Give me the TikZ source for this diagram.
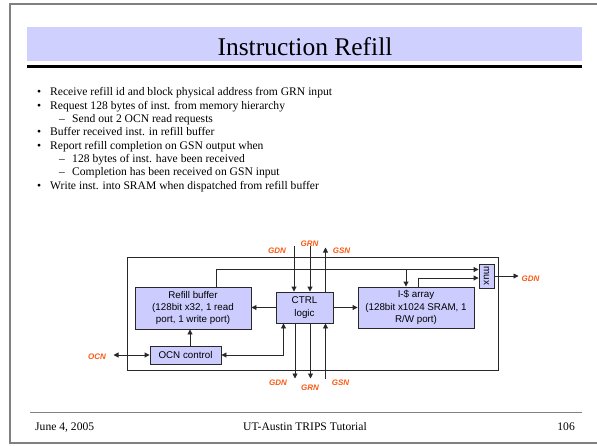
\documentclass[tikz,border=0pt]{standalone}
\usepackage{fontspec}
\setmainfont{Liberation Serif}
\newfontfamily\arialf{Liberation Sans}
\usetikzlibrary{arrows.meta}
\definecolor{boxfill}{RGB}{204,204,255}
\definecolor{bandfill}{RGB}{208,208,255}
\definecolor{netred}{RGB}{250,90,20}
\definecolor{lineg}{RGB}{40,40,40}
\begin{document}
\begin{tikzpicture}[x=1pt,y=-1pt,
  blk/.style={draw=lineg,line width=0.9pt,fill=boxfill,inner sep=0pt,align=center,
     font=\arialf\fontsize{9.8}{12.4}\selectfont},
  wire/.style={draw=lineg,line width=0.9pt},
  arr/.style={wire,-{Triangle[length=5pt,width=5pt]}},
  darr/.style={wire,{Triangle[length=5pt,width=5pt]}-{Triangle[length=5pt,width=5pt]}},
  net/.style={text=netred,font=\arialf\bfseries\itshape\fontsize{8}{9}\selectfont,inner sep=0pt},
  body/.style={anchor=base west,inner sep=0pt,font=\fontsize{11.6}{13.4}\selectfont},
  foot/.style={anchor=base,inner sep=0pt,font=\fontsize{11.6}{13.4}\selectfont}
]
\useasboundingbox (0,0) rectangle (597,445);
% slide frame
\draw[gray,line width=1.4pt] (597,4) -- (10,4) -- (10,443) -- (597,443);
% title band
\fill[bandfill] (27,27) rectangle (582,61);
\node[anchor=base,inner sep=0pt,font=\fontsize{25.5}{28}\selectfont] (title) at (305,55) {Instruction Refill};
\draw[black,line width=3pt] (27,66.5) -- (582,66.5);
% bullets
\foreach \y/\t in {95/{Receive refill id and block physical address from GRN input},
                   109/{Request 128 bytes of inst. from memory hierarchy},
                   135.5/{Buffer received inst. in refill buffer},
                   149/{Report refill completion on GSN output when},
                   189/{Write inst. into SRAM when dispatched from refill buffer}}{
  \node[body] at (37,\y) {\textbullet};
  \node[body] at (50,\y) {\t};
}
\foreach \y/\t in {122/{Send out 2 OCN read requests},
                   162.5/{128 bytes of inst. have been received},
                   175.5/{Completion has been received on GSN input}}{
  \node[body] at (59,\y) {\textendash};
  \node[body] at (72,\y) {\t};
}
% footer
\draw[gray,line width=1.2pt] (30,412.5) -- (582,412.5);
\node[body] (date) at (35,430.5) {June 4, 2005};
\node[foot] (tut) at (305,430.5) {UT-Austin TRIPS Tutorial};
\node[anchor=base east,inner sep=0pt,font=\fontsize{11.6}{13.4}\selectfont] (num) at (575,430.5) {106};

% diagram frame
\draw[lineg,line width=0.9pt] (127,257) rectangle (498,370);
% blocks
\node[blk,minimum width=116pt,minimum height=42pt] (refill) at (193,308) {Refill buffer\\(128bit x32, 1 read\\port, 1 write port)};
\node[blk,minimum width=71pt,minimum height=18pt] (ocn) at (185.5,355) {OCN control};
\node[blk,minimum width=57pt,minimum height=31pt] (ctrl) at (304.5,307.5) {CTRL\\logic};
\node[blk,minimum width=116pt,minimum height=41pt] (icache) at (416,307.5) {I-\$ array\\(128bit x1024 SRAM, 1\\R/W port)};
\node[blk,minimum width=15pt,minimum height=24pt] (mux) at (486.5,276) {\rotatebox{-90}{mux}};

% coordinates of free ends
\coordinate (gdnT) at (294,246);
\coordinate (grnT) at (310,246);
\coordinate (gsnT) at (325.5,247.5);
\coordinate (gdnB) at (295,378.5);
\coordinate (grnB) at (310.5,378.5);
\coordinate (gsnB) at (325.5,378.5);
\coordinate (ocnX) at (113.5,355);
\coordinate (gdnX) at (518.5,276);
\coordinate (rfTop) at (216.5,269.5);
\coordinate (icTop) at (418.5,278);
\coordinate (brI) at (406,269.5);
\coordinate (corner) at (283.5,355);
\coordinate (ocnUp) at (190,0);

% net labels
\node[net] (lgdnT) at (277,251) {GDN};
\node[net] (lgrnT) at (309.5,244) {GRN};
\node[net] (lgsnT) at (341.5,251) {GSN};
\node[net] (lgdnB) at (278,383) {GDN};
\node[net] (lgrnB) at (310,388) {GRN};
\node[net] (lgsnB) at (340.5,383) {GSN};
\node[net] (locn) at (97,357) {OCN};
\node[net] (lgdnX) at (530.5,279) {GDN};

% connectors
\draw[arr] (gdnT) -- (gdnT |- ctrl.north);
\draw[arr] (grnT) -- (grnT |- ctrl.north);
\draw[arr] (gsnT |- ctrl.north) -- (gsnT);
\draw[arr] (gdnB |- ctrl.south) -- (gdnB);
\draw[arr] (grnB |- ctrl.south) -- (grnB);
\draw[arr] (gsnB) -- (gsnB |- ctrl.south);
\draw[arr] (ctrl.west) -- (ctrl.west -| refill.east);
\draw[arr] (ctrl.east) -- (ctrl.east -| icache.west);
\draw[arr] (ocnUp |- ocn.north) -- (ocnUp |- refill.south);
\draw[darr] (ocn.east) -- (corner) -- (corner |- ctrl.south);
\draw[darr] (ocnX) -- (ocn.west);
\draw[arr] (rfTop |- refill.north) -- (rfTop) -- (rfTop -| mux.west);
\draw[arr] (brI) -- (brI |- icache.north);
\draw[arr] (icTop |- icache.north) -- (icTop) -- (icTop -| mux.west);
\draw[arr] (mux.east) -- (gdnX);
\end{tikzpicture}
\end{document}
